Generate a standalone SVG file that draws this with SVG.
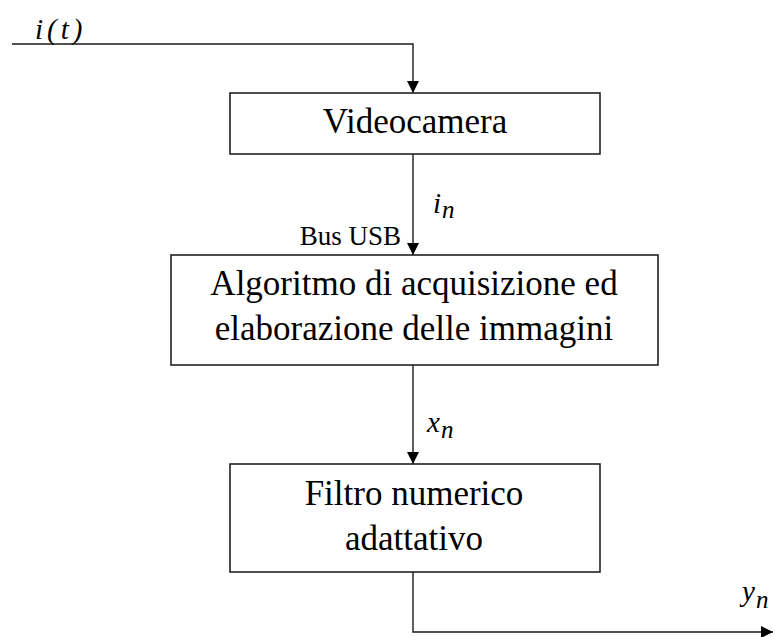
<svg xmlns="http://www.w3.org/2000/svg" width="773" height="637" viewBox="0 0 773 637">
  <style>
    .box { fill: #ffffff; stroke: #222222; stroke-width: 1.6; }
    .wire { fill: none; stroke: #1a1a1a; stroke-width: 1.4; }
    .lbl { font-family: "Liberation Serif", "Times New Roman", serif; font-size: 35px; fill: #000000; text-anchor: middle; }
    .bus { font-family: "Liberation Serif", "Times New Roman", serif; font-size: 27px; fill: #000000; text-anchor: end; }
    .math { font-family: "Liberation Serif", "Times New Roman", serif; font-style: italic; font-size: 29px; fill: #000000; }
    .sub { font-size: 25px; }
  </style>
  <defs>
    <marker id="arrow" markerUnits="userSpaceOnUse" markerWidth="12" markerHeight="12" viewBox="0 0 12 12" refX="12" refY="6" orient="auto">
      <path d="M0,0 L12,6 L0,12 Z" fill="#000000"/>
    </marker>
  </defs>

  <!-- signal paths between blocks -->
  <g id="connectors">
    <path class="wire" d="M12,44 H413 V93" marker-end="url(#arrow)"/>
    <path class="wire" d="M413,154 V255" marker-end="url(#arrow)"/>
    <path class="wire" d="M413,365 V464" marker-end="url(#arrow)"/>
    <path class="wire" d="M413,572 V632 H773" marker-end="url(#arrow)"/>
  </g>

  <!-- signal labels -->
  <g id="labels">
    <text class="math" x="35" y="39" letter-spacing="4">i(t)</text>
    <text class="math" x="433" y="213">i<tspan class="sub" dx="1" dy="5">n</tspan></text>
    <text class="bus" x="401" y="245">Bus USB</text>
    <text class="math" x="427" y="432">x<tspan class="sub" dx="1" dy="6">n</tspan></text>
    <text class="math" x="742" y="601">y<tspan class="sub" dx="1" dy="7">n</tspan></text>
  </g>

  <g id="videocamera">
    <rect class="box" x="230" y="93" width="370" height="61"/>
    <text class="lbl" x="415" y="133">Videocamera</text>
  </g>

  <g id="algoritmo">
    <rect class="box" x="171" y="255" width="487" height="110"/>
    <text class="lbl" x="414" y="295">Algoritmo di acquisizione ed</text>
    <text class="lbl" x="414" y="340">elaborazione delle immagini</text>
  </g>

  <g id="filtro">
    <rect class="box" x="230" y="464" width="370" height="108"/>
    <text class="lbl" x="414" y="505">Filtro numerico</text>
    <text class="lbl" x="414" y="550">adattativo</text>
  </g>
</svg>
